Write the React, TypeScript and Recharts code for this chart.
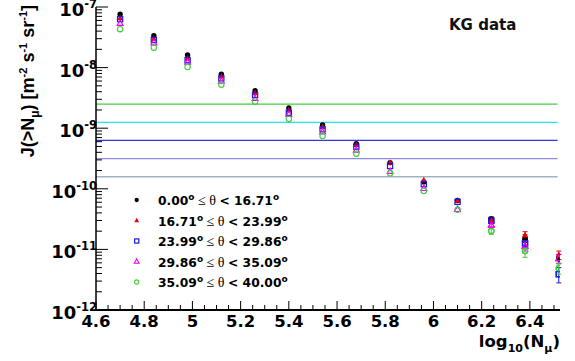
import { ScatterChart, Scatter, XAxis, YAxis, ErrorBar, ReferenceLine } from "recharts";

// log10(N_mu) bin centres
const X_BINS = [4.7, 4.84, 4.98, 5.12, 5.26, 5.4, 5.54, 5.68, 5.82, 5.96, 6.1, 6.24, 6.38, 6.52];

// integral flux J(>N_mu) per zenith-angle bin
const FLUX_A = [7.6e-8, 3.36e-8, 1.61e-8, 7.8e-9, 4.16e-9, 2.15e-9, 1.13e-9, 5.55e-10, 2.7e-10, 1.3e-10, 6.4e-11, 3.14e-11, 1.52e-11, 7.0e-12];
const FLUX_B = [6.6e-8, 3.0e-8, 1.42e-8, 7.2e-9, 3.8e-9, 1.98e-9, 1.05e-9, 5.3e-10, 2.7e-10, 1.4e-10, 6.4e-11, 3.05e-11, 1.71e-11, 8.1e-12];
const FLUX_C = [6.3e-8, 2.85e-8, 1.33e-8, 6.65e-9, 3.53e-9, 1.8e-9, 9.6e-10, 4.95e-10, 2.38e-10, 1.19e-10, 6.1e-11, 2.98e-11, 1.26e-11, 3.9e-12];
const FLUX_D = [5.4e-8, 2.58e-8, 1.24e-8, 6.0e-9, 3.11e-9, 1.7e-9, 8.75e-10, 4.37e-10, 1.95e-10, 1.02e-10, 4.6e-11, 2.53e-11, 1.14e-11, 7.1e-12];
const FLUX_E = [4.3e-8, 2.13e-8, 1.02e-8, 5.2e-9, 2.74e-9, 1.42e-9, 7.4e-10, 3.8e-10, 1.8e-10, 9.2e-11, 4.5e-11, 2.01e-11, 9.4e-12, 4.9e-12];

// errors visible only on the last three bins
const ERR_A = [3e-12, 2.2e-12, 1.2e-12];
const ERR_B = [3e-12, 2.5e-12, 1.3e-12];
const ERR_C = [3e-12, 2e-12, 1.1e-12];
const ERR_D = [2.5e-12, 2e-12, 1.2e-12];
const ERR_E = [2.4e-12, 2e-12, 1.0e-12];

const THETA_LO = ["0.00", "16.71", "23.99", "29.86", "35.09"];
const THETA_HI = ["16.71", "23.99", "29.86", "35.09", "40.00"];

// horizontal reference levels
const LEVELS = [2.5e-9, 1.25e-9, 6.3e-10, 3.15e-10, 1.58e-10];
const LEVEL_COLORS = ["#44cc44", "#22e6e6", "#3434d8", "#8c8ce0", "#a2b2c2"];

const X_MAJOR = [4.6, 4.8, 5, 5.2, 5.4, 5.6, 5.8, 6, 6.2, 6.4];

const FONT = "'DejaVu Sans', sans-serif";
const FONT_NARROW = "'Liberation Sans', Arial, sans-serif";

const SERIES = [
  { flux: FLUX_A, err: ERR_A, color: "#000000", marker: "dot" },
  { flux: FLUX_B, err: ERR_B, color: "#ee0000", marker: "tri" },
  { flux: FLUX_C, err: ERR_C, color: "#1a1ae6", marker: "square" },
  { flux: FLUX_D, err: ERR_D, color: "#ee00ee", marker: "otri" },
  { flux: FLUX_E, err: ERR_E, color: "#44cc44", marker: "circle" },
];

function Marker({ cx, cy, kind, color, s = 1 }: any) {
  if (cx == null || cy == null) return null;
  if (kind === "dot") return <circle cx={cx} cy={cy} r={2.7 * s} fill={color} />;
  if (kind === "tri")
    return <polygon points={`${cx},${cy - 3.3 * s} ${cx - 3 * s},${cy + 2.2 * s} ${cx + 3 * s},${cy + 2.2 * s}`} fill={color} />;
  if (kind === "square")
    return <rect x={cx - 2.6 * s} y={cy - 2.6 * s} width={5.2 * s} height={5.2 * s} fill="none" stroke={color} strokeWidth={1.2} />;
  if (kind === "otri")
    return <polygon points={`${cx},${cy - 3.3 * s} ${cx - 3 * s},${cy + 2.2 * s} ${cx + 3 * s},${cy + 2.2 * s}`} fill="none" stroke={color} strokeWidth={1.1} />;
  return <circle cx={cx} cy={cy} r={2.7 * s} fill="none" stroke={color} strokeWidth={1.1} />;
}

function YTick(props: any) {
  const { x, y, payload } = props;
  const v = payload.value;
  const exp = Math.floor(Math.log10(v) + 1e-9);
  const major = Math.abs(v / Math.pow(10, exp) - 1) < 1e-6;
  return (
    <g>
      <line x1={x} x2={x + (major ? 12 : 6)} y1={y} y2={y} stroke="#000" strokeWidth={1} />
      {major && (
        <text x={x + 1} y={y + 9} textAnchor="end" fontFamily={FONT} fontWeight="bold" fontSize={18} fill="#000">
          10<tspan dy={-8} fontSize={11.5}>{exp}</tspan>
        </text>
      )}
    </g>
  );
}

function XTick(props: any) {
  const { x, y, payload } = props;
  const v = payload.value;
  const major = X_MAJOR.find((m) => Math.abs(m - v) < 1e-6);
  return (
    <g>
      <line x1={x} x2={x} y1={y} y2={y - (major !== undefined ? 9 : 5)} stroke="#000" strokeWidth={1} />
      {major !== undefined && (
        <text x={x} y={y + 17} textAnchor="middle" fontFamily={FONT} fontWeight="bold" fontSize={16.5} fill="#000">
          {String(major)}
        </text>
      )}
    </g>
  );
}

const yTicks: number[] = [];
for (let e = -12; e <= -7; e++) {
  for (let m = 1; m <= 9; m++) {
    if (e === -7 && m > 1) break;
    yTicks.push(m * Math.pow(10, e));
  }
}
const xTicks: number[] = [];
for (let i = 0; i <= 38; i++) xTicks.push(Math.round((4.6 + i * 0.05) * 1000) / 1000);

export default function App() {
  return (
    <div style={{ position: "absolute", left: 0, top: 0, width: 575, height: 361, background: "#fff" }}>
      <ScatterChart width={575} height={361} margin={{ top: 7, right: 15, bottom: 0, left: 0 }}>
        <XAxis
          dataKey="x"
          type="number"
          domain={[4.6, 6.525]}
          ticks={xTicks}
          interval={0}
          height={51}
          tickSize={0}
          tickMargin={0}
          tickLine={false}
          tick={<XTick />}
          axisLine={{ stroke: "#000", strokeWidth: 2 }}
          allowDataOverflow
        />
        <XAxis xAxisId="top" orientation="top" type="number" domain={[4.6, 6.525]} height={0} tick={false} tickLine={false} axisLine={{ stroke: "#333", strokeWidth: 1.5 }} />
        <YAxis
          dataKey="y"
          type="number"
          scale="log"
          domain={[1e-12, 1e-7]}
          ticks={yTicks}
          interval={0}
          width={96}
          tickSize={0}
          tickMargin={0}
          tickLine={false}
          tick={<YTick />}
          axisLine={{ stroke: "#000", strokeWidth: 1.5 }}
          allowDataOverflow
        />
        <YAxis yAxisId="right" orientation="right" type="number" width={0} tick={false} tickLine={false} axisLine={{ stroke: "#222", strokeWidth: 2 }} />
        {LEVELS.map((lv, i) => (
          <ReferenceLine
            key={lv}
            segment={[{ x: 4.6, y: lv }, { x: 6.515, y: lv }]}
            stroke={LEVEL_COLORS[i]}
            strokeWidth={1.3}
          />
        ))}
        {SERIES.map((s, si) => {
          const n = X_BINS.length;
          const errData = s.err.map((e, k) => ({ x: X_BINS[n - 3 + k], y: s.flux[n - 3 + k], e }));
          return (
            <Scatter
              key={"err" + si}
              data={errData}
              isAnimationActive={false}
              shape={(p: any) => <Marker cx={p.cx} cy={p.cy} kind={s.marker} color={s.color} />}
            >
              <ErrorBar dataKey="e" direction="y" width={2.5} stroke={s.color} strokeWidth={1} />
            </Scatter>
          );
        })}
        {SERIES.map((s, si) => (
          <Scatter
            key={"pts" + si}
            data={X_BINS.map((x, i) => ({ x, y: s.flux[i] }))}
            isAnimationActive={false}
            shape={(p: any) => <Marker cx={p.cx} cy={p.cy} kind={s.marker} color={s.color} />}
          />
        ))}
      </ScatterChart>
      <svg width={575} height={361} style={{ position: "absolute", left: 0, top: 0, pointerEvents: "none" }}>
        <text x={449} y={30} fontFamily={FONT} fontWeight="bold" fontSize={15} fill="#111">KG data</text>
        <text x={34} y={5} transform="rotate(-90 34 5)" textAnchor="end" fontFamily={FONT_NARROW} fontWeight="bold" fontSize={18} fill="#000">
          J(&gt;N<tspan dy={5} fontSize={12}>μ</tspan><tspan dy={-5}>) [m</tspan>
          <tspan dy={-7} fontSize={11}>-2</tspan><tspan dy={7}> s</tspan>
          <tspan dy={-7} fontSize={11}>-1</tspan><tspan dy={7}> sr</tspan>
          <tspan dy={-7} fontSize={11}>-1</tspan><tspan dy={7}>]</tspan>
        </text>
        <text x={560} y={347} textAnchor="end" fontFamily={FONT} fontWeight="bold" fontSize={16.5} fill="#000">
          log<tspan dy={5} fontSize={11}>10</tspan><tspan dy={-5}>(N</tspan>
          <tspan dy={5} fontSize={11}>μ</tspan><tspan dy={-5}>)</tspan>
        </text>
        {SERIES.map((s, i) => {
          const y = 205 + i * 20.5;
          return (
            <g key={i}>
              <Marker cx={136.7} cy={y - 5} kind={s.marker} color={s.color} s={0.8} />
              <text x={158} y={y} fontFamily={FONT} fontWeight="bold" fontSize={12.3} fill="#000">
                {THETA_LO[i]}
                <tspan dy={-5} fontSize={9}>o</tspan>
                <tspan dy={5} fontFamily="'Liberation Serif', serif" fontWeight="normal" fontSize={14}> ≤ θ </tspan>
                <tspan>&lt; {THETA_HI[i]}</tspan>
                <tspan dy={-5} fontSize={9}>o</tspan>
              </text>
            </g>
          );
        })}
      </svg>
    </div>
  );
}
